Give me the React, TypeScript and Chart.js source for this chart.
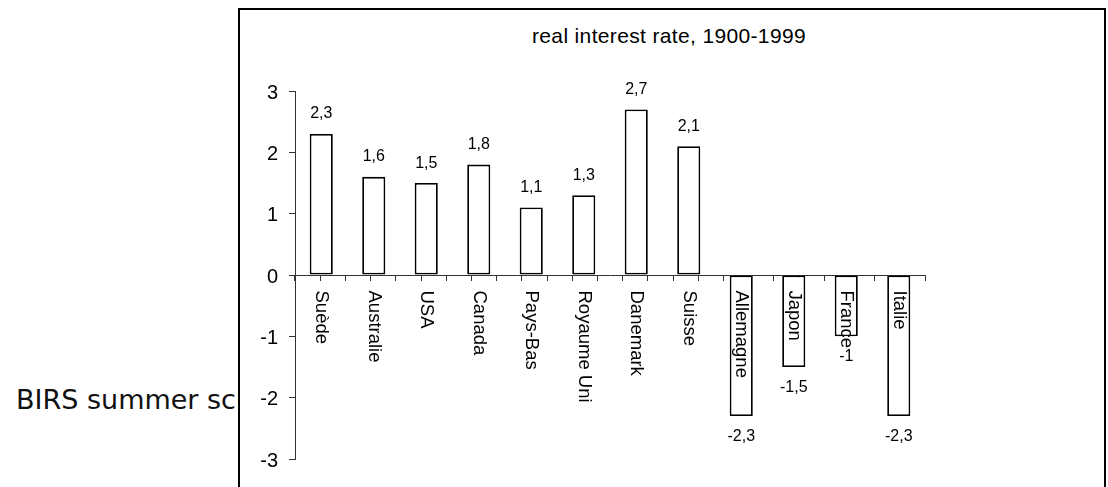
import React, { useEffect, useRef } from 'react';
import { Chart, registerables } from 'chart.js';

Chart.register(...registerables);

// Real interest rates by country, 1900-1999 (percent per year)
const countries = [
  'Suède',
  'Australie',
  'USA',
  'Canada',
  'Pays-Bas',
  'Royaume Uni',
  'Danemark',
  'Suisse',
  'Allemagne',
  'Japon',
  'France',
  'Italie',
];
const realRates = [2.3, 1.6, 1.5, 1.8, 1.1, 1.3, 2.7, 2.1, -2.3, -1.5, -1, -2.3];
const yTicks = [-3, -2, -1, 0, 1, 2, 3];
const chartTitle = 'real interest rate, 1900-1999';
const sideText = 'BIRS summer school';

const ARIAL = 'Arial, "Liberation Sans", sans-serif';

const fmt = (v: number) => String(v).replace('.', ',');

// Value labels at the bar ends and vertical country names hanging from the zero line
const barLabels = {
  id: 'barLabels',
  afterDraw(chart: any) {
    const ctx = chart.ctx as CanvasRenderingContext2D;
    const meta = chart.getDatasetMeta(0);
    const xScale = chart.scales.x;
    const yScale = chart.scales.y;
    const zero = yScale.getPixelForValue(0);

    ctx.save();
    ctx.fillStyle = '#000';
    ctx.font = `16px ${ARIAL}`;
    ctx.textAlign = 'center';
    ctx.textBaseline = 'alphabetic';
    meta.data.forEach((bar: any, i: number) => {
      const v = realRates[i];
      const { x, y } = bar.getProps(['x', 'y'], true);
      ctx.fillText(fmt(v), x, v >= 0 ? y - 15.5 : y + 25);
    });

    ctx.font = `18.5px ${ARIAL}`;
    ctx.textAlign = 'left';
    ctx.textBaseline = 'middle';
    countries.forEach((name, i) => {
      const px = xScale.getPixelForValue(i);
      ctx.save();
      ctx.translate(px, zero + 15.5);
      ctx.rotate(Math.PI / 2);
      ctx.fillText(name, 0, 0);
      ctx.restore();
    });
    ctx.restore();
  },
};

function RateChart() {
  const canvasRef = useRef<HTMLCanvasElement | null>(null);

  useEffect(() => {
    const canvas = canvasRef.current;
    if (!canvas) return;
    const chart = new Chart(canvas, {
      type: 'bar',
      data: {
        labels: countries,
        datasets: [
          {
            data: realRates,
            backgroundColor: '#ffffff',
            borderColor: '#000000',
            borderWidth: 1.8,
            borderSkipped: false,
            barPercentage: 0.44,
            categoryPercentage: 1,
          },
        ],
      },
      options: {
        animation: false,
        responsive: false,
        devicePixelRatio: 1,
        layout: { padding: { left: 0, right: 179, top: 81, bottom: 28 } },
        plugins: {
          legend: { display: false },
          tooltip: { enabled: false },
          title: { display: false },
        },
        scales: {
          x: {
            type: 'category',
            display: false,
            offset: true,
          },
          xTicks: {
            type: 'linear',
            axis: 'x',
            position: { y: 0 },
            min: 0,
            max: 12,
            z: 1,
            ticks: { display: false, stepSize: 0.5 },
            grid: {
              drawOnChartArea: false,
              drawTicks: true,
              tickLength: 5,
              color: '#333',
              lineWidth: 1,
            },
            border: { display: true, color: '#333', width: 1 },
          },
          y: {
            type: 'linear',
            min: -3,
            max: 3,
            afterFit: (scale: any) => {
              scale.width = 55;
            },
            afterBuildTicks: (scale: any) => {
              scale.ticks = yTicks.map((value) => ({ value }));
            },
            ticks: {
              color: '#000',
              font: { size: 20, family: ARIAL },
              padding: 11,
              labelOffset: 2,
              callback: (v: any) => String(v),
            },
            grid: {
              drawOnChartArea: false,
              tickLength: 6,
              color: '#333',
              lineWidth: 1,
            },
            border: { display: true, color: '#333', width: 1 },
          },
        } as any,
      },
      plugins: [barLabels],
    });
    return () => chart.destroy();
  }, []);

  return (
    <canvas
      ref={canvasRef}
      width={864}
      height={477}
      style={{ position: 'absolute', left: 240, top: 10, width: 864, height: 477 }}
    />
  );
}

export default function App() {
  return (
    <div
      style={{
        position: 'absolute',
        left: 0,
        top: 0,
        width: 1108,
        height: 487,
        overflow: 'hidden',
        background: '#ffffff',
      }}
    >
      <div
        style={{
          position: 'absolute',
          left: 16,
          top: 386,
          fontFamily: '"DejaVu Sans", Verdana, sans-serif',
          fontSize: 27,
          lineHeight: '27px',
          whiteSpace: 'nowrap',
          color: '#111',
        }}
      >
        {sideText}
      </div>
      <div
        style={{
          position: 'absolute',
          left: 238,
          top: 8,
          width: 864,
          height: 600,
          border: '2px solid #000',
          background: '#ffffff',
        }}
      />
      <div
        style={{
          position: 'absolute',
          left: 469,
          top: 24.5,
          width: 400,
          textAlign: 'center',
          fontFamily: ARIAL,
          fontSize: 21,
          lineHeight: '21px',
          letterSpacing: '0.35px',
          whiteSpace: 'nowrap',
          color: '#000',
        }}
      >
        {chartTitle}
      </div>
      <RateChart />
    </div>
  );
}
